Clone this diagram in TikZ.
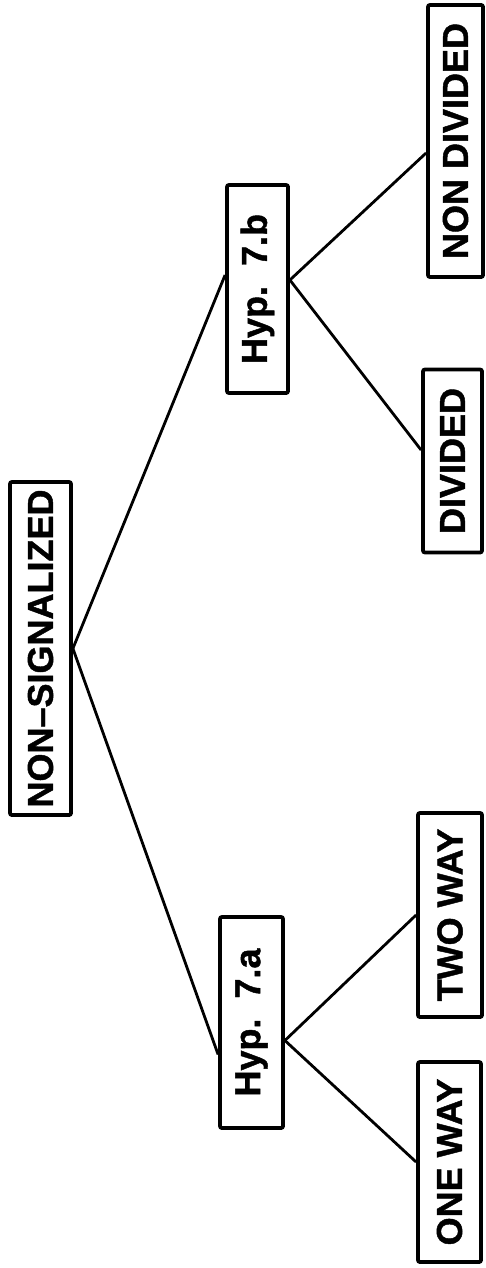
\documentclass[tikz,border=0pt]{standalone}
\usepackage{fontspec}
\setmainfont{Liberation Sans}
\newfontfamily\lett[FakeBold=1.2,Ligatures=TeX]{Liberation Sans Bold}
\begin{document}
\begin{tikzpicture}[x=1pt,y=-1pt,
  box/.style={draw, line width=3.8pt, rounded corners=2pt, inner sep=0pt,
    font=\lett\fontsize{36}{40}\selectfont},
  link/.style={line width=2.8pt}]
\useasboundingbox (0,0) rectangle (485,1268);
\node[box, minimum width=61pt, minimum height=333pt] (ns) at (40.5,648.5) {\rotatebox{90}{NON–SIGNALIZED}};
\node[box, minimum width=61pt, minimum height=208pt] (hb) at (257.5,289) {\rotatebox{90}{Hyp.\ \ 7.b}};
\node[box, minimum width=63pt, minimum height=211pt] (ha) at (251.5,1022.5) {\rotatebox{90}{Hyp.\ \ 7.a}};
\node[box, minimum width=55pt, minimum height=272pt] (nd) at (455.5,141) {\rotatebox{90}{NON DIVIDED}};
\node[box, minimum width=59pt, minimum height=183pt] (dv) at (452.5,461) {\rotatebox{90}{DIVIDED}};
\node[box, minimum width=64pt, minimum height=204pt] (tw) at (450,915) {\rotatebox{90}{TWO WAY}};
\node[box, minimum width=63pt, minimum height=200pt] (ow) at (449.5,1162) {\rotatebox{90}{ONE WAY}};
\draw[link] (ns.east) -- ([yshift=14pt]hb.west);
\draw[link] (ns.east) -- ([yshift=-32pt]ha.west);
\draw[link] ([yshift=9pt]hb.east) -- ([yshift=-12pt]nd.west);
\draw[link] ([yshift=9pt]hb.east) -- ([yshift=11pt]dv.west);
\draw[link] ([yshift=-18pt]ha.east) -- (tw.west);
\draw[link] ([yshift=-18pt]ha.east) -- (ow.west);
\end{tikzpicture}
\end{document}
